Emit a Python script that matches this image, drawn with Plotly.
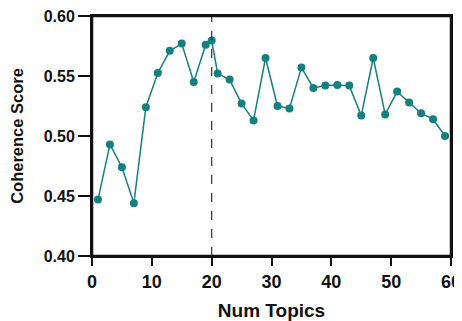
import plotly.graph_objects as go

num_topics = [1, 3, 5, 7, 9, 11, 13, 15, 17, 19, 20, 21, 23, 25, 27, 29, 31, 33, 35, 37,
              39, 41, 43, 45, 47, 49, 51, 53, 55, 57, 59]
coherence = [0.447, 0.493, 0.474, 0.444, 0.524, 0.5525, 0.571, 0.577, 0.545, 0.576, 0.5795,
             0.552, 0.547, 0.527, 0.513, 0.565, 0.525, 0.523, 0.557, 0.540,
             0.542, 0.5425, 0.542, 0.517, 0.565, 0.518, 0.537, 0.528, 0.519, 0.514, 0.500]
x_ticks = [0, 10, 20, 30, 40, 50, 60]
y_ticks = [0.40, 0.45, 0.50, 0.55, 0.60]
best_k = 20

color = "#167f7f"
ink = "#111111"

fig = go.Figure()
fig.add_trace(go.Scatter(
    x=num_topics, y=coherence, mode="lines+markers",
    line=dict(color=color, width=1.5),
    marker=dict(color=color, size=8),
    showlegend=False,
))
fig.add_shape(type="line", x0=best_k, x1=best_k, y0=0, y1=1, yref="paper",
              line=dict(color="#333333", width=1.2, dash="dash"))
fig.add_shape(type="rect", xref="paper", yref="paper", x0=0, x1=1, y0=0, y1=1,
              line=dict(color=ink, width=2.5), fillcolor="rgba(0,0,0,0)", layer="above")

font = "Liberation Sans, Arial, sans-serif"
axis_common = dict(
    showgrid=False, zeroline=False, showline=True, linecolor=ink, linewidth=2,
    mirror=True, ticks="outside", tickwidth=2, tickcolor=ink, automargin=False,
    ticklabeloverflow="allow",
)
fig.update_xaxes(range=[0, 60], tickvals=x_ticks, ticktext=[str(v) for v in x_ticks],
                 ticklen=8,
                 tickfont=dict(family=font, size=18, color=ink, weight="bold"),
                 title=dict(text="<b>Num Topics</b>", font=dict(family=font, size=19, color=ink),
                            standoff=16),
                 **axis_common)
fig.update_yaxes(range=[0.40, 0.60], tickvals=y_ticks, ticktext=[f"{v:.2f}" for v in y_ticks],
                 ticklen=12,
                 tickfont=dict(family=font, size=16, color=ink, weight="bold"),
                 title=dict(text="<b>Coherence Score</b>", font=dict(family=font, size=16.5, color=ink),
                            standoff=18),
                 **axis_common)
fig.update_layout(
    width=454, height=313,
    margin=dict(l=84, r=11, t=8, b=65),
    paper_bgcolor="white", plot_bgcolor="white",
)
fig.write_html("out.html")
